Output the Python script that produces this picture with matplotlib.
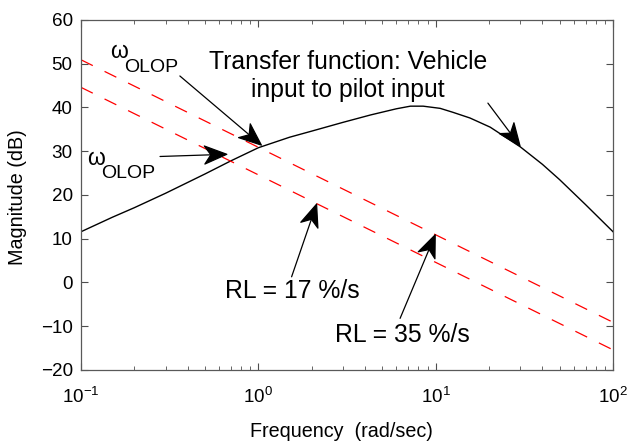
import matplotlib
matplotlib.use("Agg")
import matplotlib.pyplot as plt
import numpy as np
from matplotlib.patches import ArrowStyle
from matplotlib.path import Path

plt.rcParams["font.family"] = ["Liberation Sans", "DejaVu Sans"]
plt.rcParams["mathtext.fontset"] = "custom"
plt.rcParams["mathtext.rm"] = "Liberation Sans"
plt.rcParams["mathtext.it"] = "Liberation Sans:italic"

# transfer function: vehicle input to pilot input
freq = [0.1, 0.15, 0.2, 0.3, 0.5, 0.7, 1.0, 1.5, 2.0, 3.0, 4.3, 6.0, 7.2, 8.5,
        10.6, 12.5, 15.6, 20.3, 30.0, 40.0, 50.0, 70.0, 100.0]
mag = [11.6, 14.9, 17.1, 20.4, 24.8, 27.8, 30.8, 33.2, 34.6, 36.6, 38.3, 39.7,
       40.3, 40.3, 39.8, 38.9, 37.6, 35.5, 31.0, 27.0, 23.5, 17.8, 11.6]

# rate limit lines (end points)
rl_freq = [0.1, 100.0]
rl35_mag = [50.9, -9.1]
rl17_mag = [44.6, -15.4]

red_dash = (0, (10.5, 10.5))


class VBackHead(ArrowStyle._Base):
    # line with a filled arrow head that has a notched back
    def __init__(self, head_length=16.0, head_width=6.5, notch=4.5):
        self.head_length = head_length
        self.head_width = head_width
        self.notch = notch
        super().__init__()

    def transmute(self, path, mutation_size, linewidth):
        x0, y0 = path.vertices[0]
        x1, y1 = path.vertices[-1]
        d = np.hypot(x1 - x0, y1 - y0)
        ux, uy = (x1 - x0) / d, (y1 - y0) / d
        px, py = -uy, ux
        hl = self.head_length * mutation_size
        hw = self.head_width * mutation_size
        nt = self.notch * mutation_size
        bx, by = x1 - hl * ux, y1 - hl * uy
        nx, ny = bx + nt * ux, by + nt * uy
        head = Path([(bx + hw * px, by + hw * py), (x1, y1),
                     (bx - hw * px, by - hw * py), (nx, ny), (0, 0)],
                    [Path.MOVETO, Path.LINETO, Path.LINETO, Path.LINETO,
                     Path.CLOSEPOLY])
        line = Path([(x0, y0), (nx, ny)], [Path.MOVETO, Path.LINETO])
        return [line, head], [False, True]


fig = plt.figure(figsize=(6.27, 4.44), dpi=100)
ax = fig.add_axes([0.1292, 0.1667, 0.8485, 0.7883])

ax.semilogx(freq, mag, color="black", linewidth=1.0)
ax.semilogx(rl_freq, rl35_mag, color="red", linewidth=0.9, linestyle=red_dash)
ax.semilogx(rl_freq, rl17_mag, color="red", linewidth=0.9, linestyle=red_dash)

ax.set_xlim(0.1, 100)
ax.set_ylim(-20, 60)
ax.set_yticks(np.arange(-20, 61, 10))

ax.tick_params(which="both", direction="in", top=True, right=True,
               labelsize=13.6, colors="0.3", labelcolor="black")
ax.tick_params(which="major", length=5, width=0.8)
ax.tick_params(which="minor", length=3, width=0.6)
ax.tick_params(axis="x", pad=12)
ax.tick_params(axis="y", pad=6)
for s in ax.spines.values():
    s.set_color("0.35")
    s.set_linewidth(0.9)

ax.set_xlabel("Frequency  (rad/sec)", fontsize=14.2)
ax.set_ylabel("Magnitude (dB)", fontsize=14.2)
ax.xaxis.set_label_coords(0.49, -0.15)
ax.yaxis.set_label_coords(-0.1015, 0.493)


def arrow(tail, tip):
    ax.annotate("", xy=tip, xytext=tail,
                arrowprops=dict(arrowstyle=VBackHead(), mutation_scale=1,
                                lw=0.9, color="black", shrinkA=0, shrinkB=0))


def omega_olop(x, y):
    ax.text(x, y, "ω", fontsize=16.5, ha="left", va="baseline")
    ax.annotate("OLOP", xy=(x, y), xytext=(10.2, -9.4), textcoords="offset points",
                fontsize=14, ha="left", va="baseline")


txt = 17.8
omega_olop(0.146, 51.2)
arrow((0.361, 47.2), (1.04, 31.4))
omega_olop(0.108, 26.9)
arrow((0.279, 28.8), (0.664, 29.3))

ax.text(3.21, 42.5, "Transfer function: Vehicle\ninput to pilot input",
        fontsize=txt, ha="center", va="baseline", linespacing=1.21)
arrow((19.7, 41.0), (29.9, 31.2))

ax.text(0.648, -3.5, "RL = 17 %/s", fontsize=txt, ha="left", va="baseline")
arrow((1.54, 1.3), (2.13, 17.9))
ax.text(2.71, -13.5, "RL = 35 %/s", fontsize=txt, ha="left", va="baseline")
arrow((6.3, -8.2), (9.94, 10.9))

fig.savefig("out.png", dpi=100)
